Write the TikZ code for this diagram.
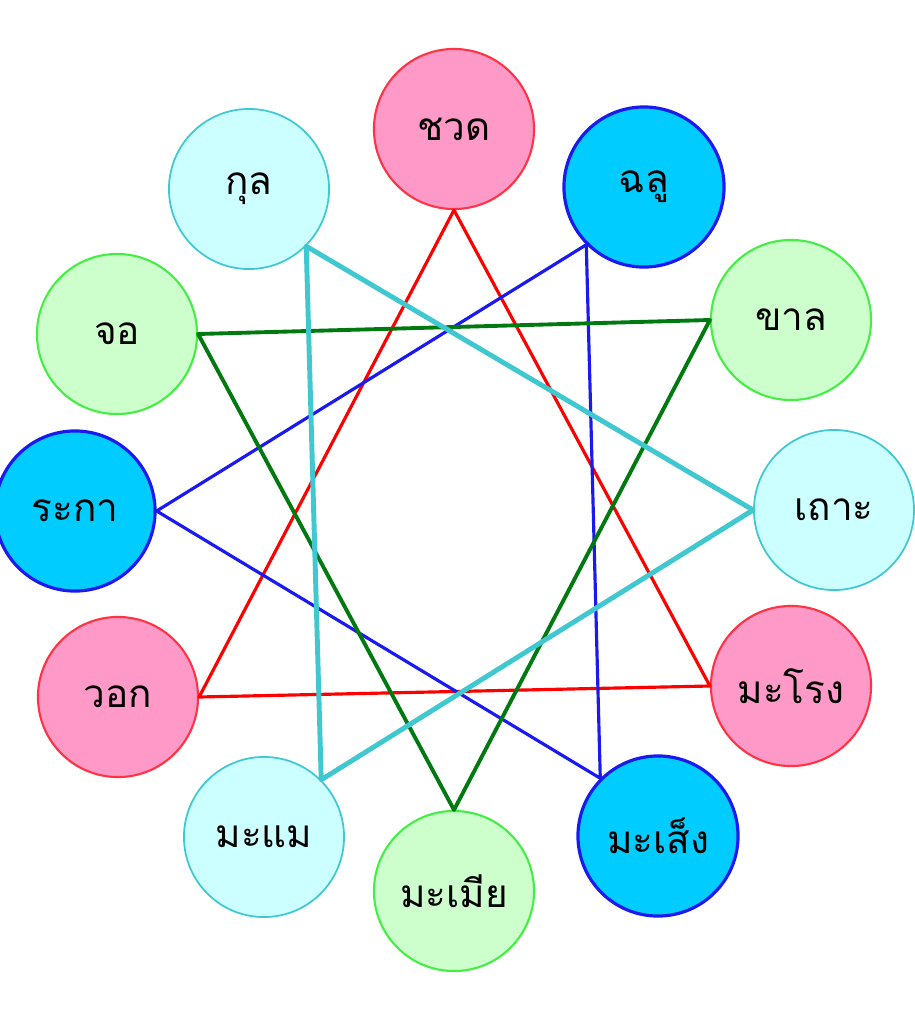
\documentclass[tikz,border=0pt]{standalone}
\usepackage{fontspec}
\newfontfamily\thaifont[Script=Thai]{Loma}
\definecolor{pinkfill}{HTML}{FF99C8}
\definecolor{pinkline}{HTML}{FF3344}
\definecolor{bluefill}{HTML}{00CCFF}
\definecolor{blueline}{HTML}{1A1AF0}
\definecolor{greenfill}{HTML}{CCFFCC}
\definecolor{greenline}{HTML}{44EE44}
\definecolor{cyanfill}{HTML}{CCFFFF}
\definecolor{cyanline}{HTML}{40C8D0}
\definecolor{darkgreen}{HTML}{007A10}
\begin{document}
\begin{tikzpicture}[x=0.01cm, y=-0.01cm,
    ball/.style={circle, minimum size=1.6cm, inner sep=0pt,
        font=\thaifont\fontsize{11}{11}\selectfont},
    pinkball/.style={ball, fill=pinkfill, draw=pinkline, line width=.6pt},
    blueball/.style={ball, fill=bluefill, draw=blueline, line width=.9pt},
    greenball/.style={ball, fill=greenfill, draw=greenline, line width=.6pt},
    cyanball/.style={ball, fill=cyanfill, draw=cyanline, line width=.5pt}]
    \useasboundingbox (0,0) rectangle (915,1027);
    
    \node[pinkball]  (rat)     at (454,129) {ชวด};
    \node[blueball]  (ox)      at (644,187) {ฉลู};
    \node[greenball] (tiger)   at (791,320) {ขาล};
    \node[cyanball]  (rabbit)  at (834,510) {เถาะ};
    \node[pinkball]  (dragon)  at (791,686) {มะโรง};
    \node[blueball]  (snake)   at (658,836) {มะเส็ง};
    \node[greenball] (horse)   at (454,891) {มะเมีย};
    \node[cyanball]  (goat)    at (264,837) {มะแม};
    \node[pinkball]  (monkey)  at (118,697) {วอก};
    \node[blueball]  (rooster) at (75,511)  {ระกา};
    \node[greenball] (dog)     at (117,334) {จอ};
    \node[cyanball]  (pig)     at (249,189) {กุล};
    
    \draw[red, line width=.9pt, line join=round]
        (rat.south)--(monkey.east)--(dragon.west)--cycle;
    \draw[blueline, line width=.9pt, line join=round]
        (ox.south west)--(rooster.east)--(snake.north west)--cycle;
    \draw[darkgreen, line width=1.1pt, line join=round]
        (tiger.west)--(dog.east)--(horse.north)--cycle;
    \draw[cyanline, line width=1.4pt, line join=round]
        (pig.south east)--(rabbit.west)--(goat.north east)--cycle;
    
\end{tikzpicture}
\end{document}
